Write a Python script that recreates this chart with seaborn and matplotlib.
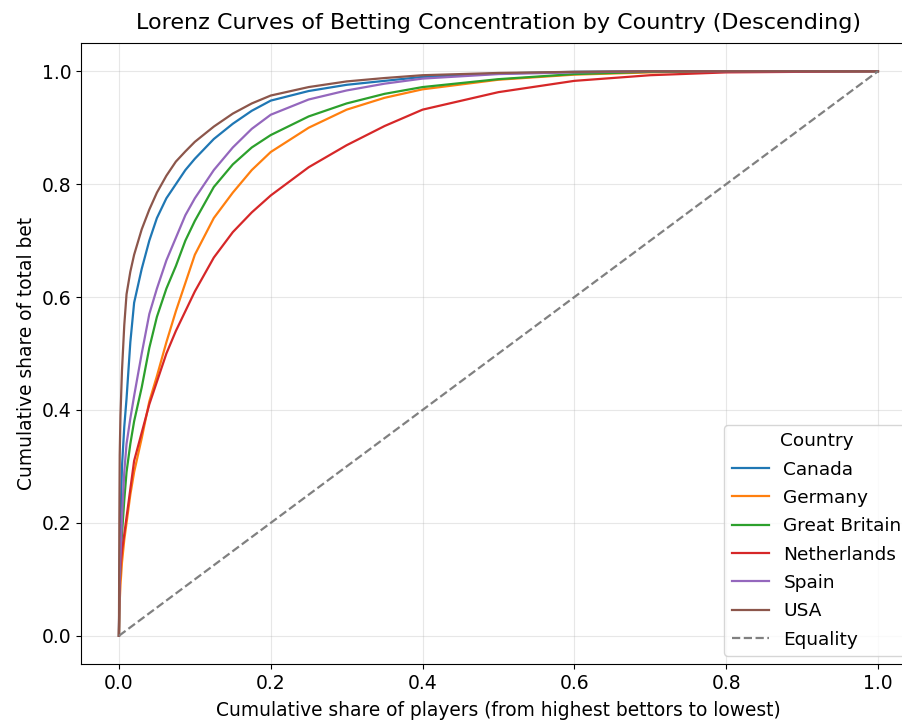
import pandas as pd
import matplotlib
matplotlib.use("Agg")
import matplotlib.pyplot as plt
import seaborn as sns

# cumulative share of players (top bettors first)
share_players = [0, 0.0005, 0.001, 0.002, 0.004, 0.007, 0.01, 0.015, 0.02, 0.03,
                 0.04, 0.05, 0.0625, 0.075, 0.0875, 0.1, 0.125, 0.15, 0.175, 0.2,
                 0.25, 0.3, 0.35, 0.4, 0.5, 0.6, 0.7, 0.8, 1.0]

# cumulative share of total bet
canada = [0, 0.08, 0.12, 0.20, 0.30, 0.37, 0.42, 0.52, 0.59, 0.65,
          0.70, 0.74, 0.775, 0.80, 0.825, 0.845, 0.88, 0.907, 0.93, 0.948,
          0.965, 0.976, 0.983, 0.99, 0.996, 0.999, 1.0, 1.0, 1.0]
germany = [0, 0.04, 0.06, 0.09, 0.13, 0.17, 0.20, 0.25, 0.29, 0.35,
           0.415, 0.46, 0.52, 0.575, 0.625, 0.675, 0.74, 0.785, 0.825, 0.857,
           0.90, 0.932, 0.953, 0.968, 0.985, 0.994, 0.998, 1.0, 1.0]
great_britain = [0, 0.06, 0.09, 0.13, 0.18, 0.24, 0.29, 0.34, 0.38, 0.44,
                 0.51, 0.565, 0.615, 0.655, 0.70, 0.735, 0.795, 0.835, 0.865, 0.887,
                 0.92, 0.943, 0.96, 0.972, 0.986, 0.995, 0.999, 1.0, 1.0]
netherlands = [0, 0.07, 0.09, 0.12, 0.15, 0.18, 0.21, 0.26, 0.31, 0.36,
               0.41, 0.45, 0.50, 0.54, 0.575, 0.61, 0.67, 0.715, 0.75, 0.78,
               0.83, 0.869, 0.903, 0.932, 0.963, 0.983, 0.993, 0.998, 1.0]
spain = [0, 0.08, 0.10, 0.14, 0.21, 0.29, 0.34, 0.385, 0.425, 0.50,
         0.57, 0.615, 0.665, 0.705, 0.745, 0.775, 0.825, 0.865, 0.898, 0.923,
         0.95, 0.966, 0.978, 0.987, 0.995, 0.998, 1.0, 1.0, 1.0]
usa = [0, 0.20, 0.32, 0.39, 0.47, 0.55, 0.605, 0.645, 0.675, 0.72,
       0.755, 0.785, 0.815, 0.84, 0.858, 0.875, 0.902, 0.925, 0.943, 0.957,
       0.972, 0.982, 0.988, 0.993, 0.997, 0.999, 1.0, 1.0, 1.0]

countries = ["Canada", "Germany", "Great Britain", "Netherlands", "Spain", "USA"]
curves = [canada, germany, great_britain, netherlands, spain, usa]

rows = []
for name, ys in zip(countries, curves):
    for x, y in zip(share_players, ys):
        rows.append({"players": x, "bet": y, "Country": name})
df = pd.DataFrame(rows)

fig = plt.figure(figsize=(9.03, 7.22), dpi=100)
# the original is cropped on the right, so the axes run past the edge
ax = fig.add_axes([0.0897, 0.0803, 0.9666, 0.8601])

sns.lineplot(data=df, x="players", y="bet", hue="Country", hue_order=countries,
             palette="tab10", estimator=None, sort=True, linewidth=1.6, ax=ax)
ax.plot([0, 1], [0, 1], linestyle="--", color="gray", linewidth=1.6, label="Equality")

ax.set_xlim(-0.05, 1.10)
ax.set_ylim(-0.05, 1.05)
ax.set_xticks([0, 0.2, 0.4, 0.6, 0.8, 1.0])
ax.set_yticks([0, 0.2, 0.4, 0.6, 0.8, 1.0])
ax.grid(True, alpha=0.3)
ax.tick_params(labelsize=13.5)

# centre of the uncropped axes (x = 0.5 in data units)
mid = (0.5 + 0.05) / 1.15

ax.set_title("Lorenz Curves of Betting Concentration by Country (Descending)",
             fontsize=16, pad=10)
ax.title.set_x(mid)
ax.set_xlabel("Cumulative share of players (from highest bettors to lowest)",
              fontsize=13.4, labelpad=6)
ax.xaxis.label.set_x(mid)
ax.set_ylabel("Cumulative share of total bet", fontsize=13.4)
ax.legend(title="Country", loc="lower right", bbox_to_anchor=(0.9486, 0.0129),
          borderaxespad=0, fontsize=13.3, title_fontsize=13.3, labelspacing=0.56)

fig.savefig("out.png", dpi=100)
